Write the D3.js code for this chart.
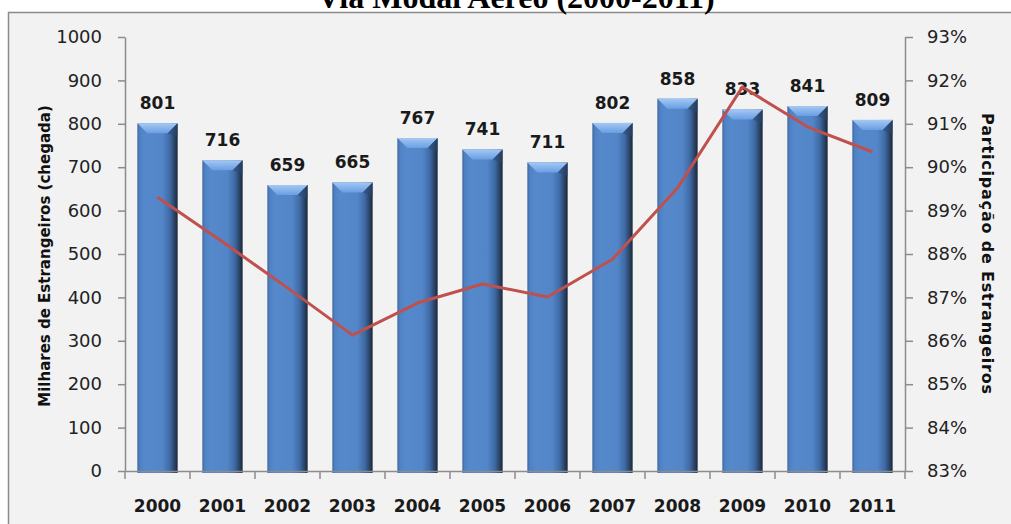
<!DOCTYPE html>
<html>
<head>
<meta charset="utf-8">
<script src="https://cdn.jsdelivr.net/npm/d3@7"></script>
<style>
body { margin: 0; background: #fff; }
.tick text { font-family: "DejaVu Sans", Verdana, sans-serif; fill: #222; }
.axis path, .axis line { stroke: #8c8c8c; stroke-width: 1.5; }
</style>
</head>
<body>
<svg id="chartsvg"></svg>
<script>
// data
var anos = ["2000","2001","2002","2003","2004","2005","2006","2007","2008","2009","2010","2011"];
var chegadas = [801, 716, 659, 665, 767, 741, 711, 802, 858, 833, 841, 809];
var participacao = [89.31, 88.28, 87.22, 86.13, 86.87, 87.31, 87.01, 87.88, 89.52, 91.85, 90.93, 90.35];
var ticksEsq = [0,100,200,300,400,500,600,700,800,900,1000];
var ticksDir = [83,84,85,86,87,88,89,90,91,92,93];

var W = 1011, H = 524;
var plot = {left: 125, right: 905, top: 37, bottom: 471};

var svg = d3.select("#chartsvg").attr("width", W).attr("height", H);

//gradients for the cylinder-ish bars
var defs = svg.append("defs");
var g1 = defs.append("linearGradient").attr("id","barfill").attr("x1","0").attr("x2","1").attr("y1","0").attr("y2","0");
[["0%","#3d659b"],["6%","#4f82c4"],["20%","#5689cc"],["62%","#5386c8"],["80%","#3f6ba6"],["92%","#2a4467"],["100%","#1a2637"]]
	.forEach(function(s){ g1.append("stop").attr("offset",s[0]).attr("stop-color",s[1]); });
var g2 = defs.append("linearGradient").attr("id","bevel").attr("x1","0").attr("x2","0").attr("y1","0").attr("y2","1");
[["0%","#a3c8f5"],["100%","#6a9ee2"]]
	.forEach(function(s){ g2.append("stop").attr("offset",s[0]).attr("stop-color",s[1]); });

//frame
svg.append("rect").attr("x",8.5).attr("y",12.5).attr("width",W+10).attr("height",H+10)
	.attr("fill","#f2f2f2").attr("stroke","#8a8a8a").attr("stroke-width",1.5);

//title (cut off at the top like the original)
svg.append("text").attr("x",516).attr("y",8)
	.attr("text-anchor","middle")
	.style("font-family","'Liberation Serif','Times New Roman',serif")
	.style("font-weight","bold").style("font-size","32px")
	.text("Via Modal Aéreo (2000-2011)");

var x = d3.scaleBand().domain(anos).range([plot.left, plot.right]).paddingInner(0.38).paddingOuter(0.19);
var yL = d3.scaleLinear().domain([0,1000]).range([plot.bottom, plot.top]);
var yR = d3.scaleLinear().domain([83,93]).range([plot.bottom, plot.top]);

//bars
var bars = svg.append("g").attr("class","bars").selectAll("g").data(anos).enter().append("g");
bars.append("rect")
	.attr("x", function(d){ return x(d); })
	.attr("y", function(d,i){ return yL(chegadas[i]); })
	.attr("width", x.bandwidth())
	.attr("height", function(d,i){ return yL(0) - yL(chegadas[i]) + 2; })
	.attr("fill","url(#barfill)");
bars.append("path")
	.attr("d", function(d,i){
		var x0 = x(d), x1 = x(d)+x.bandwidth(), t = yL(chegadas[i]), b = 10;
		return "M"+x0+","+t+"L"+x1+","+t+"L"+(x1-b)+","+(t+b)+"L"+(x0+b)+","+(t+b)+"Z";
	})
	.attr("fill","url(#bevel)");
bars.append("path")
	.attr("d", function(d,i){
		var x1 = x(d)+x.bandwidth(), t = yL(chegadas[i]), b = 10;
		return "M"+x1+","+t+"L"+x1+","+(t+b+4)+"L"+(x1-b)+","+(t+b)+"Z";
	})
	.attr("fill","#2c4a72").attr("opacity",0.6);

//value labels
bars.append("text")
	.attr("x", function(d){ return x(d) + x.bandwidth()/2; })
	.attr("y", function(d,i){ return yL(chegadas[i]) - 14; })
	.attr("text-anchor","middle")
	.style("font-family","'DejaVu Sans',Verdana,sans-serif")
	.style("font-weight","bold").style("font-size","17px").style("fill","#1a1a1a")
	.text(function(d,i){ return chegadas[i]; });

//line
var linha = d3.line()
	.x(function(d,i){ return x(anos[i]) + x.bandwidth()/2; })
	.y(function(d){ return yR(d); });
svg.append("path").datum(participacao)
	.attr("d", linha)
	.attr("fill","none").attr("stroke","#c0504d").attr("stroke-width",3).attr("stroke-linejoin","round");

//left axis
var axL = svg.append("g").attr("class","axis")
	.attr("transform","translate("+plot.left+",0)")
	.call(d3.axisLeft(yL).tickValues(ticksEsq).tickSize(7).tickPadding(16).tickSizeOuter(0)
		.tickFormat(d3.format("d")));
axL.selectAll(".tick text").style("font-size","18px");

//right axis
var axR = svg.append("g").attr("class","axis")
	.attr("transform","translate("+plot.right+",0)")
	.call(d3.axisRight(yR).tickValues(ticksDir).tickSize(8).tickPadding(14).tickSizeOuter(0)
		.tickFormat(function(d){ return d + "%"; }));
axR.selectAll(".tick text").style("font-size","18px");

//x axis: labels under bands, ticks on band boundaries
var axB = svg.append("g").attr("class","axis")
	.attr("transform","translate(0,"+plot.bottom+")")
	.call(d3.axisBottom(x).tickSize(0).tickPadding(29).tickSizeOuter(0));
axB.selectAll(".tick text").style("font-size","17px").style("font-weight","bold").style("fill","#1a1a1a");
axB.selectAll(".bound").data(d3.range(anos.length+1)).enter().append("line")
	.attr("class","bound")
	.attr("x1", function(i){ return plot.left + i*x.step(); })
	.attr("x2", function(i){ return plot.left + i*x.step(); })
	.attr("y1",0).attr("y2",8);

//axis titles
svg.append("text")
	.attr("transform","translate(50,"+((plot.top+plot.bottom)/2+2)+")rotate(-90)")
	.attr("text-anchor","middle")
	.style("font-family","'DejaVu Sans',Verdana,sans-serif")
	.style("font-weight","bold").style("font-size","15px").style("fill","#111")
	.text("Milhares de Estrangeiros (chegada)");
svg.append("text")
	.attr("transform","translate(982,"+((plot.top+plot.bottom)/2)+")rotate(90)")
	.attr("text-anchor","middle")
	.style("font-family","'DejaVu Sans',Verdana,sans-serif")
	.style("font-weight","bold").style("font-size","16px").style("letter-spacing","0.8px").style("fill","#111")
	.text("Participação de Estrangeiros");
</script>
</body>
</html>
